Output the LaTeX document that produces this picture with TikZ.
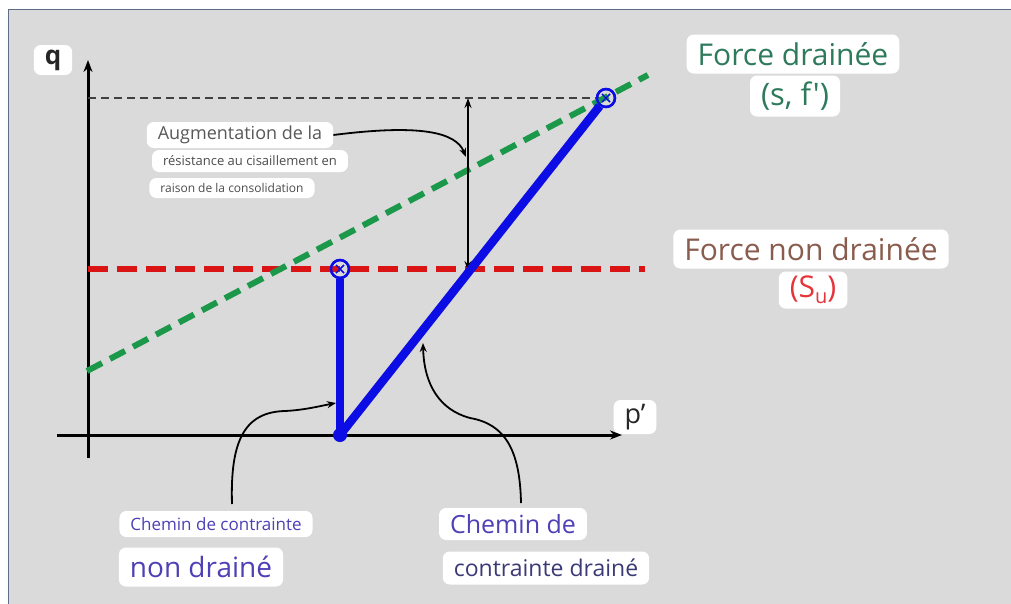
\documentclass[tikz,border=0pt]{standalone}
\usepackage{fontspec}
\setmainfont{Open Sans}
\newfontfamily\straightfont[Ligatures=ResetAll]{Open Sans}
\usetikzlibrary{positioning,arrows.meta,calc}
\definecolor{bgGray}{RGB}{218,218,218}
\definecolor{frameBlue}{RGB}{95,110,135}
\definecolor{pathBlue}{RGB}{12,12,228}
\definecolor{lineGreen}{RGB}{28,152,74}
\definecolor{lineRed}{RGB}{218,20,20}
\definecolor{txtGreen}{RGB}{46,122,92}
\definecolor{txtBrown}{RGB}{138,92,78}
\definecolor{txtRed}{RGB}{230,52,58}
\definecolor{txtPurple}{RGB}{78,64,182}
\definecolor{txtNavy}{RGB}{60,58,118}
\definecolor{txtGray}{RGB}{88,88,88}
\newcommand{\lblsize}[1]{\fontsize{#1}{#1}\selectfont}
\tikzset{
    tag/.style={rectangle, rounded corners=7pt, fill=white, inner xsep=11pt, inner ysep=2pt, align=center},
    axis/.style={line width=3pt, -{Stealth[length=12pt, width=9pt]}},
    refline/.style={line width=1.3pt, dash pattern=on 8pt off 5pt, color=black!75},
    undrained/.style={line width=6pt, dash pattern=on 20pt off 9pt, color=lineRed},
    drained/.style={line width=6pt, dash pattern=on 17pt off 9pt, color=lineGreen},
    stresspath/.style={line width=8.5pt, color=pathBlue},
    failmark/.style={circle, draw=pathBlue, line width=2.4pt, minimum size=18pt, inner sep=0pt,
                     path picture={\draw[pathBlue, line width=1.3pt]
                       ($(path picture bounding box.center)+(-4pt,-4pt)$) -- ($(path picture bounding box.center)+(4pt,4pt)$)
                       ($(path picture bounding box.center)+(-4pt,4pt)$) -- ($(path picture bounding box.center)+(4pt,-4pt)$);}},
    startdot/.style={circle, fill=pathBlue, minimum size=14pt, inner sep=0pt},
    note/.style={line width=1.8pt, -{Stealth[length=9pt, width=7pt]}},
    gain/.style={line width=1.6pt, {Stealth[length=10pt, width=7pt]}-{Stealth[length=10pt, width=7pt]}}
}
\begin{document}
\begin{tikzpicture}[x=1pt, y=-1pt]
  \useasboundingbox (0,0) rectangle (1011,603);
  \fill[white] (0,0) rectangle (1011,603);
  \draw[frameBlue, fill=bgGray, line width=1pt] (8,9) rectangle (1014,606);

  % Nodes
  \coordinate (qfoot) at (88,458);
  \coordinate (qtop) at (88,60);
  \coordinate (pfoot) at (57,435);
  \coordinate (ptop) at (622,435);
  \coordinate (refstart) at (88,98);
  \coordinate (redstart) at (88,269);
  \coordinate (redend) at (645,269);
  \coordinate (greenstart) at (87,371);
  \coordinate (greenend) at (648,75);
  \coordinate (gaintop) at (468,98);
  \coordinate (gainbot) at (468,271);
  \coordinate (gainhit) at (466,157);
  \coordinate (ndfoot) at (232,504);
  \coordinate (ndhit) at (336,403);
  \coordinate (dfoot) at (521,503);
  \coordinate (dhit) at (423,343);

  \node[tag, minimum height=30pt, font=\lblsize{26}\bfseries, text=black!85] (qlbl) at (53,60) {q};
  \node[tag, minimum height=34pt, font=\lblsize{27}, text=black!85] (plbl) at (635,417) {p’};

  \node[tag, minimum height=26pt, font=\lblsize{18}, text=txtGray] (aug) at (240,135) {Augmentation de la};
  \node[tag, minimum height=22pt, font=\lblsize{13}, text=black!70] (res) at (250,161) {résistance au cisaillement en};
  \node[tag, minimum height=20pt, font=\lblsize{12}, text=black!70] (cons) at (232,188) {raison de la consolidation};

  \node[tag, minimum height=39pt, font=\lblsize{30}, text=txtGreen] (fdr) at (793,54) {Force drainée};
  \node[tag, minimum height=41pt, font=\straightfont\lblsize{31}, text=txtGreen] (fdrsym) at (795,96) {(s, f')};
  \node[tag, minimum height=39pt, font=\lblsize{30}, text=txtBrown] (fnd) at (811,249) {Force non drainée};
  \node[tag, minimum height=37pt, font=\lblsize{30}, text=txtRed] (fndsym) at (813,290)
       {(S\raisebox{-6pt}{\lblsize{20}u})};

  \node[tag, minimum height=26pt, font=\lblsize{17}, text=txtPurple] (cnd1) at (216,524) {Chemin de contrainte};
  \node[tag, minimum height=39pt, font=\lblsize{28}, text=txtPurple] (cnd2) at (201,567) {non drainé};
  \node[tag, minimum height=32pt, font=\lblsize{25}, text=txtPurple] (cd1) at (513,524) {Chemin de};
  \node[tag, minimum height=33pt, font=\lblsize{23}, text=txtNavy] (cd2) at (546,568) {contrainte drainé};

  \node[failmark] (fu) at (340,269) {};
  \node[failmark] (fd) at (606,98) {};

  % Edges
  \draw[axis] (qfoot) -- (qtop);
  \draw[axis] (pfoot) -- (ptop);
  \draw[refline] (refstart) -- (fd.center);
  \draw[undrained] (redstart) -- (redend);
  \draw[drained] (greenstart) -- (greenend);
  \draw[gain] (gaintop) -- (gainbot);

  \node[startdot] (o) at (340,435) {};
  \draw[stresspath] (o.center) -- (fu);
  \draw[stresspath] (o.center) -- (fd);
  \node[failmark] at (fu) {};
  \node[failmark] at (fd) {};

  \draw[note] (aug.east) .. controls (420,124) and (456,132) .. (gainhit);
  \draw[note] (ndfoot) .. controls (230,440) and (245,412) .. (285,411)
                        .. controls (305,410) and (320,406) .. (ndhit);
  \draw[note] (dfoot) .. controls (520,450) and (505,424) .. (470,418)
                       .. controls (440,410) and (424,385) .. (dhit);
\end{tikzpicture}
\end{document}
